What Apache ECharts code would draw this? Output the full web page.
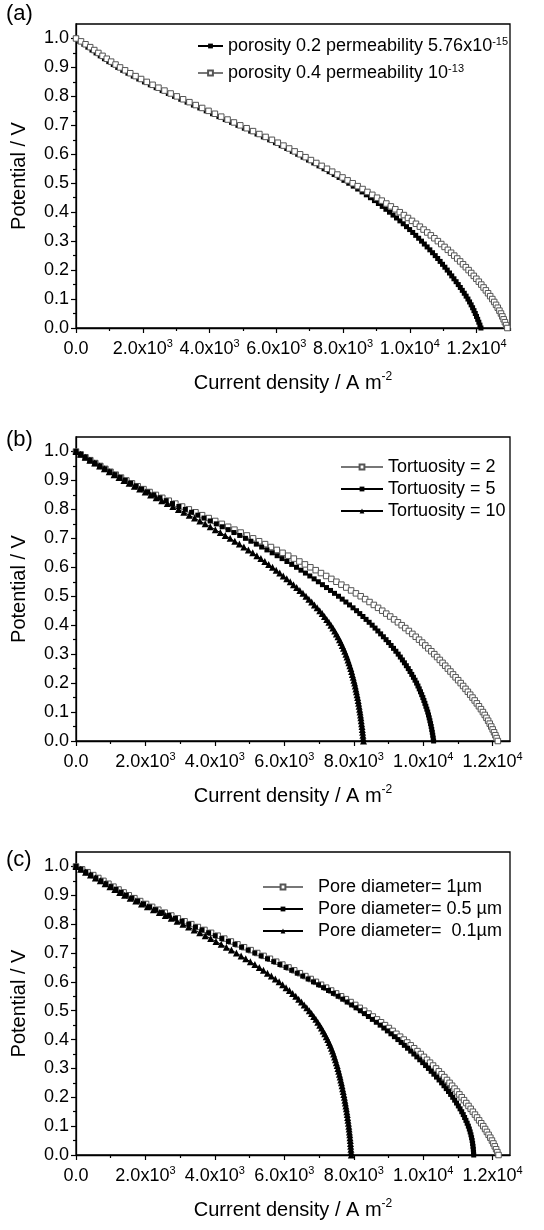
<!DOCTYPE html>
<html>
<head>
<meta charset="utf-8">
<script src="https://cdn.jsdelivr.net/npm/echarts@6/dist/echarts.min.js"></script>
<style>
  html, body { margin: 0; padding: 0; background: #fff; }
  #chart { width: 544px; height: 1230px; }
</style>
</head>
<body>
<div id="chart"></div>
<script>
// Cell potential sweep (V), common to every polarisation curve
const potential = [
  1.00, 0.99, 0.98, 0.97, 0.96, 0.95, 0.94, 0.93, 0.92, 0.91,
  0.90, 0.89, 0.88, 0.87, 0.86, 0.85, 0.84, 0.83, 0.82, 0.81,
  0.80, 0.79, 0.78, 0.77, 0.76, 0.75, 0.74, 0.73, 0.72, 0.71,
  0.70, 0.69, 0.68, 0.67, 0.66, 0.65, 0.64, 0.63, 0.62, 0.61,
  0.60, 0.59, 0.58, 0.57, 0.56, 0.55, 0.54, 0.53, 0.52, 0.51,
  0.50, 0.49, 0.48, 0.47, 0.46, 0.45, 0.44, 0.43, 0.42, 0.41,
  0.40, 0.39, 0.38, 0.37, 0.36, 0.35, 0.34, 0.33, 0.32, 0.31,
  0.30, 0.29, 0.28, 0.27, 0.26, 0.25, 0.24, 0.23, 0.22, 0.21,
  0.20, 0.19, 0.18, 0.17, 0.16, 0.15, 0.14, 0.13, 0.12, 0.11,
  0.10, 0.09, 0.08, 0.07, 0.06, 0.05, 0.04, 0.03, 0.02, 0.01,
  0.00
];

// (a) current density (A m^-2) for the two porosity / permeability cases
const currentPorosity02 = [
  0, 115, 235, 355, 478, 600, 725, 852, 982, 1115,
  1250, 1400, 1555, 1715, 1880, 2050, 2225, 2400, 2580, 2765,
  2950, 3138, 3327, 3517, 3708, 3900, 4090, 4280, 4470, 4660,
  4850, 5042, 5232, 5422, 5612, 5800, 5974, 6145, 6313, 6478,
  6640, 6802, 6963, 7122, 7278, 7430, 7582, 7732, 7880, 8026,
  8170, 8305, 8438, 8569, 8696, 8820, 8940, 9058, 9173, 9283,
  9390, 9496, 9600, 9702, 9802, 9900, 9994, 10086, 10176, 10264,
  10350, 10434, 10517, 10599, 10680, 10760, 10834, 10907, 10979, 11050,
  11120, 11188, 11255, 11321, 11386, 11450, 11511, 11571, 11630, 11686,
  11740, 11789, 11836, 11880, 11921, 11960, 11997, 12032, 12066, 12099,
  12130
];
const currentPorosity04 = [
  0, 150, 285, 425, 548, 670, 795, 922, 1052, 1185,
  1320, 1470, 1625, 1785, 1950, 2120, 2295, 2470, 2650, 2835,
  3020, 3208, 3397, 3587, 3778, 3970, 4160, 4350, 4540, 4730,
  4920, 5112, 5302, 5492, 5680, 5868, 6045, 6215, 6385, 6550,
  6712, 6875, 7037, 7198, 7358, 7518, 7674, 7829, 7983, 8136,
  8288, 8437, 8584, 8730, 8875, 9018, 9158, 9296, 9431, 9565,
  9698, 9822, 9944, 10064, 10183, 10300, 10411, 10521, 10629, 10735,
  10840, 10941, 11040, 11138, 11235, 11330, 11419, 11507, 11593, 11677,
  11760, 11839, 11916, 11992, 12066, 12140, 12209, 12277, 12343, 12407,
  12470, 12527, 12582, 12634, 12683, 12730, 12771, 12810, 12848, 12885,
  12920
];

// (b) current density for three tortuosities
const currentTortuosity2 = [
  0, 135, 272, 412, 555, 700, 846, 994, 1144, 1296,
  1450, 1612, 1777, 1945, 2120, 2300, 2485, 2672, 2862, 3055,
  3250, 3441, 3632, 3822, 4011, 4200, 4382, 4563, 4743, 4922,
  5100, 5273, 5445, 5615, 5783, 5950, 6113, 6274, 6434, 6593,
  6750, 6904, 7056, 7206, 7354, 7500, 7643, 7784, 7923, 8062,
  8200, 8328, 8454, 8578, 8700, 8820, 8936, 9050, 9162, 9272,
  9380, 9485, 9587, 9688, 9785, 9880, 9971, 10060, 10148, 10235,
  10320, 10400, 10479, 10557, 10634, 10710, 10785, 10859, 10933, 11007,
  11080, 11150, 11219, 11287, 11354, 11420, 11483, 11545, 11605, 11663,
  11720, 11772, 11822, 11870, 11916, 11960, 12001, 12041, 12079, 12115,
  12150
];
const currentTortuosity5 = [
  0, 133, 268, 406, 547, 690, 834, 979, 1125, 1272,
  1420, 1576, 1734, 1894, 2065, 2240, 2418, 2598, 2780, 2964,
  3150, 3330, 3509, 3687, 3864, 4040, 4210, 4379, 4548, 4715,
  4880, 5037, 5193, 5347, 5499, 5650, 5793, 5935, 6075, 6213,
  6350, 6480, 6608, 6734, 6858, 6980, 7098, 7215, 7331, 7446,
  7560, 7667, 7773, 7877, 7979, 8080, 8173, 8264, 8354, 8443,
  8530, 8613, 8694, 8774, 8853, 8930, 9003, 9075, 9145, 9213,
  9280, 9341, 9401, 9459, 9515, 9570, 9621, 9671, 9719, 9765,
  9810, 9849, 9886, 9922, 9957, 9990, 10020, 10049, 10077, 10104,
  10130, 10152, 10173, 10193, 10212, 10230, 10246, 10261, 10275, 10288,
  10300
];
const currentTortuosity10 = [
  0, 131, 264, 400, 539, 680, 818, 957, 1097, 1238,
  1380, 1530, 1682, 1835, 1992, 2150, 2310, 2470, 2630, 2790,
  2950, 3106, 3261, 3415, 3568, 3720, 3866, 4012, 4156, 4299,
  4440, 4574, 4706, 4836, 4964, 5090, 5209, 5325, 5439, 5550,
  5660, 5765, 5868, 5970, 6070, 6170, 6264, 6357, 6448, 6537,
  6625, 6708, 6789, 6868, 6945, 7020, 7090, 7157, 7222, 7285,
  7345, 7399, 7450, 7499, 7546, 7590, 7630, 7668, 7705, 7741,
  7775, 7805, 7834, 7862, 7889, 7915, 7938, 7961, 7983, 8004,
  8025, 8043, 8061, 8078, 8095, 8112, 8127, 8141, 8155, 8169,
  8182, 8194, 8205, 8216, 8227, 8237, 8246, 8255, 8264, 8272,
  8280
];

// (c) current density for three pore diameters
const currentPore1um = [
  0, 176, 333, 497, 643, 790, 934, 1079, 1225, 1372,
  1520, 1682, 1848, 2018, 2192, 2370, 2556, 2744, 2934, 3126,
  3320, 3510, 3700, 3890, 4080, 4270, 4460, 4650, 4840, 5030,
  5220, 5403, 5585, 5765, 5943, 6120, 6286, 6448, 6606, 6759,
  6910, 7057, 7203, 7348, 7492, 7635, 7773, 7909, 8043, 8172,
  8300, 8425, 8548, 8668, 8785, 8900, 9011, 9120, 9228, 9335,
  9440, 9541, 9640, 9738, 9835, 9930, 10020, 10109, 10197, 10284,
  10370, 10451, 10531, 10609, 10685, 10760, 10832, 10903, 10973, 11042,
  11110, 11176, 11241, 11305, 11368, 11430, 11491, 11551, 11611, 11671,
  11730, 11783, 11834, 11884, 11933, 11980, 12022, 12062, 12100, 12136,
  12170
];
const currentPore05um = [
  0, 141, 283, 427, 573, 720, 864, 1009, 1155, 1302,
  1450, 1612, 1778, 1948, 2122, 2300, 2486, 2674, 2864, 3056,
  3250, 3440, 3630, 3820, 4010, 4200, 4390, 4580, 4770, 4960,
  5150, 5333, 5515, 5695, 5873, 6050, 6213, 6373, 6530, 6686,
  6840, 6986, 7130, 7273, 7413, 7550, 7681, 7810, 7938, 8065,
  8190, 8307, 8422, 8536, 8649, 8760, 8865, 8968, 9070, 9171,
  9270, 9364, 9457, 9549, 9640, 9730, 9816, 9901, 9985, 10068,
  10150, 10229, 10307, 10383, 10457, 10530, 10598, 10664, 10728, 10790,
  10850, 10906, 10960, 11012, 11062, 11110, 11153, 11193, 11231, 11266,
  11300, 11328, 11353, 11375, 11394, 11410, 11423, 11434, 11443, 11450,
  11455
];
const currentPore01um = [
  0, 137, 276, 417, 558, 700, 838, 977, 1118, 1259,
  1400, 1560, 1722, 1886, 2056, 2230, 2402, 2573, 2743, 2912,
  3080, 3243, 3404, 3564, 3722, 3880, 4032, 4182, 4331, 4477,
  4620, 4756, 4890, 5022, 5152, 5280, 5398, 5514, 5628, 5740,
  5850, 5951, 6050, 6147, 6240, 6330, 6413, 6494, 6572, 6647,
  6720, 6785, 6848, 6908, 6965, 7020, 7070, 7118, 7164, 7208,
  7250, 7288, 7324, 7358, 7390, 7420, 7447, 7473, 7498, 7522,
  7545, 7566, 7587, 7607, 7626, 7645, 7663, 7680, 7697, 7714,
  7730, 7745, 7759, 7773, 7787, 7800, 7812, 7824, 7835, 7846,
  7857, 7866, 7875, 7884, 7892, 7900, 7906, 7912, 7918, 7924,
  7930
];

// Tick positions
const potentialMajorTicks = [0, 0.1, 0.2, 0.3, 0.4, 0.5, 0.6, 0.7, 0.8, 0.9, 1.0];
const potentialMinorTicks = [0.05, 0.15, 0.25, 0.35, 0.45, 0.55, 0.65, 0.75, 0.85, 0.95];
const currentMajorTicks = [0, 2000, 4000, 6000, 8000, 10000, 12000];
const currentMinorTicksA = [1000, 3000, 5000, 7000, 9000, 11000, 13000];
const currentMinorTicksBC = [1000, 3000, 5000, 7000, 9000, 11000];

// Panel titles and legend texts
const panelLetters = ['(a)', '(b)', '(c)'];
const namesA = ['porosity 0.2 permeability 5.76x10-15', 'porosity 0.4 permeability 10-13'];
const namesB = ['Tortuosity = 2', 'Tortuosity = 5', 'Tortuosity = 10'];
const namesC = ['Pore diameter= 1\u00b5m', 'Pore diameter= 0.5 \u00b5m', 'Pore diameter=  0.1\u00b5m'];
const legendRich = {
  'porosity 0.2 permeability 5.76x10-15': 'porosity 0.2 permeability 5.76x10{sup|-15}',
  'porosity 0.4 permeability 10-13': 'porosity 0.4 permeability 10{sup|-13}'
};

const FONT = "'Liberation Sans', Arial, Helvetica, sans-serif";
const supStyle = { fontSize: 11, fontFamily: FONT, color: '#000', verticalAlign: 'top', lineHeight: 11 };

function pairs(cur) {
  return potential.map((v, i) => [cur[i], v]);
}

function formatCurrent(v) {
  if (v === 0) return '0.0';
  const e = Math.floor(Math.log10(v) + 1e-9);
  const m = v / Math.pow(10, e);
  return m.toFixed(1) + 'x10{sup|' + e + '}';
}

function xAxesFor(gridIndex, max, minorTicks) {
  return [
    {
      type: 'value', gridIndex, min: 0, max, interval: 2000, position: 'bottom',
      axisLine: { show: true, onZero: false, lineStyle: { color: '#000', width: 1.3 } },
      axisTick: { show: true, inside: false, length: 5, customValues: currentMajorTicks,
                  lineStyle: { color: '#000', width: 1.2 } },
      axisLabel: { customValues: currentMajorTicks, formatter: formatCurrent, color: '#000',
                   fontSize: 18, fontFamily: FONT, margin: 10, lineHeight: 22,
                   rich: { sup: supStyle } },
      splitLine: { show: false },
      name: 'Current density / A m{sup|-2}', nameLocation: 'middle', nameGap: 43,
      nameTextStyle: { fontSize: 20, fontFamily: FONT, color: '#000', lineHeight: 24,
                       rich: { sup: { fontSize: 12, fontFamily: FONT, color: '#000', verticalAlign: 'top', lineHeight: 12 } } }
    },
    {
      type: 'value', gridIndex, min: 0, max, interval: 1000, position: 'bottom',
      axisLine: { show: false, onZero: false },
      axisTick: { show: true, inside: false, length: 3, customValues: minorTicks,
                  lineStyle: { color: '#000', width: 1.2 } },
      axisLabel: { show: false },
      splitLine: { show: false }
    }
  ];
}

function yAxesFor(gridIndex) {
  return [
    {
      type: 'value', gridIndex, min: 0, max: 1.05, interval: 0.1, position: 'left',
      axisLine: { show: true, onZero: false, lineStyle: { color: '#000', width: 1.3 } },
      axisTick: { show: true, inside: false, length: 5, customValues: potentialMajorTicks,
                  lineStyle: { color: '#000', width: 1.2 } },
      axisLabel: { customValues: potentialMajorTicks, formatter: v => v.toFixed(1), color: '#000',
                   fontSize: 18, fontFamily: FONT, margin: 7 },
      splitLine: { show: false },
      name: 'Potential / V', nameLocation: 'middle', nameGap: 47, nameRotate: 90,
      nameTextStyle: { fontSize: 20, fontFamily: FONT, color: '#000' }
    },
    {
      type: 'value', gridIndex, min: 0, max: 1.05, interval: 0.05, position: 'left',
      axisLine: { show: false, onZero: false },
      axisTick: { show: true, inside: false, length: 3, customValues: potentialMinorTicks,
                  lineStyle: { color: '#000', width: 1.2 } },
      axisLabel: { show: false },
      splitLine: { show: false }
    }
  ];
}

// Marker styles
const filledSquare = { symbol: 'rect', symbolSize: 5,
  itemStyle: { color: '#000' }, lineStyle: { color: '#000', width: 1 } };
const openSquare = { symbol: 'rect', symbolSize: 5.5,
  itemStyle: { color: '#fff', borderColor: '#555', borderWidth: 1 }, lineStyle: { color: '#777', width: 1 } };
const filledTriangle = { symbol: 'triangle', symbolSize: 7,
  itemStyle: { color: '#000' }, lineStyle: { color: '#000', width: 1 } };

function curve(name, cur, axisIndex, style) {
  return Object.assign({
    name, type: 'line', data: pairs(cur),
    xAxisIndex: axisIndex, yAxisIndex: axisIndex,
    showSymbol: true, showAllSymbol: true, animation: false,
    emphasis: { disabled: true }
  }, style);
}

function legendFor(names, left, top, itemWidth, itemGap, textPad) {
  return {
    data: names, orient: 'vertical', left, top, itemWidth, itemHeight: 6, itemGap,
    selectedMode: false,
    formatter: n => legendRich[n] || n,
    textStyle: { fontSize: 18, fontFamily: FONT, color: '#000', lineHeight: 20,
                 padding: [0, 0, 0, textPad], rich: { sup: supStyle } }
  };
}

const grids = [
  { left: 76, top: 24, width: 434, height: 304 },
  { left: 76, top: 437, width: 434, height: 304 },
  { left: 76, top: 852, width: 434, height: 303 }
].map(g => Object.assign({ show: true, borderColor: '#000', borderWidth: 1.3, backgroundColor: 'transparent' }, g));

const option = {
  backgroundColor: '#fff',
  animation: false,
  grid: grids,
  xAxis: [].concat(
    xAxesFor(0, 13000, currentMinorTicksA),
    xAxesFor(1, 12500, currentMinorTicksBC),
    xAxesFor(2, 12500, currentMinorTicksBC)
  ),
  yAxis: [].concat(yAxesFor(0), yAxesFor(1), yAxesFor(2)),
  legend: [
    legendFor(namesA, 192, 31, 25, 7, 0),
    legendFor(namesB, 335, 452, 42, 2, 0),
    legendFor(namesC, 257, 872, 40, 2, 10)
  ],
  graphic: [
    { type: 'text', left: 6, top: 3, style: { text: panelLetters[0], fontSize: 22, fontFamily: FONT, fill: '#000' } },
    { type: 'text', left: 6, top: 429, style: { text: panelLetters[1], fontSize: 22, fontFamily: FONT, fill: '#000' } },
    { type: 'text', left: 6, top: 849, style: { text: panelLetters[2], fontSize: 22, fontFamily: FONT, fill: '#000' } }
  ],
  series: [
    curve(namesA[0], currentPorosity02, 0, filledSquare),
    curve(namesA[1], currentPorosity04, 0, openSquare),
    curve(namesB[0], currentTortuosity2, 2, openSquare),
    curve(namesB[1], currentTortuosity5, 2, filledSquare),
    curve(namesB[2], currentTortuosity10, 2, filledTriangle),
    curve(namesC[0], currentPore1um, 4, openSquare),
    curve(namesC[1], currentPore05um, 4, filledSquare),
    curve(namesC[2], currentPore01um, 4, filledTriangle)
  ]
};

const chart = echarts.init(document.getElementById('chart'), null, { renderer: 'canvas' });
chart.setOption(option);
</script>
</body>
</html>
